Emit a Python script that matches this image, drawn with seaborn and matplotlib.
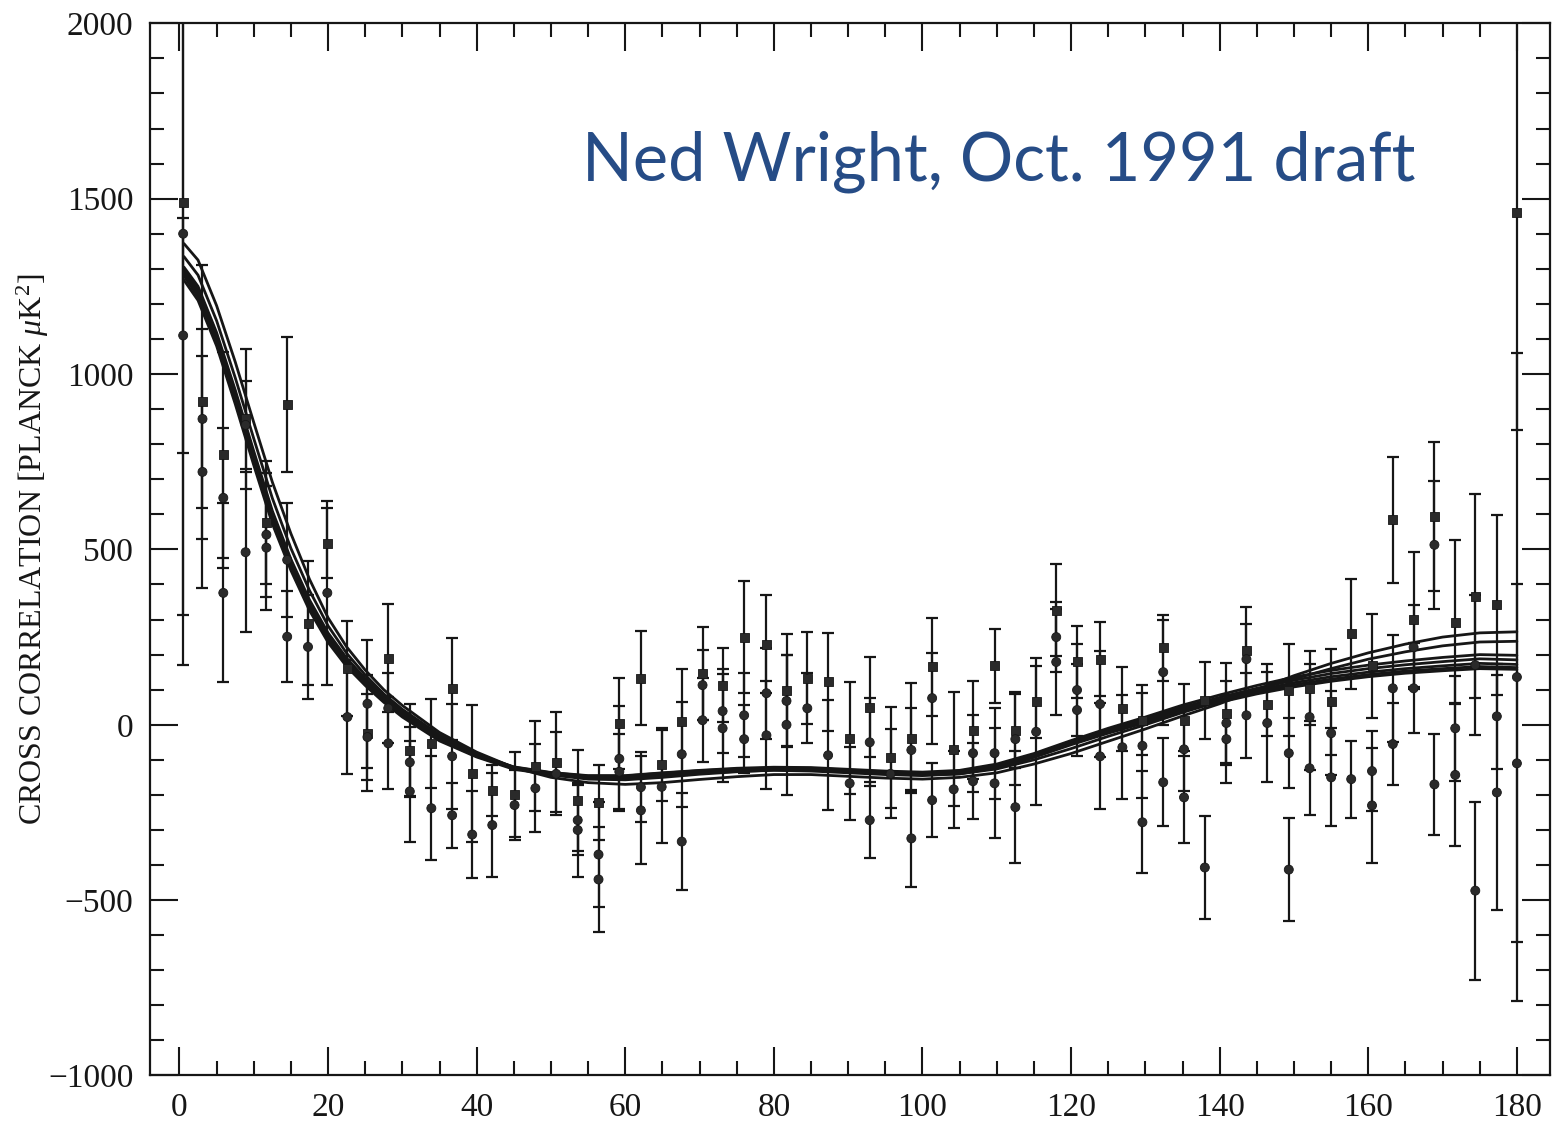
import numpy as np
import pandas as pd
import matplotlib
matplotlib.use("Agg")
import matplotlib.pyplot as plt
from matplotlib.ticker import MultipleLocator
import seaborn as sns

nan = np.nan

# ---------------- data ----------------
bin_x = [0.5, 3.1, 5.9, 8.9, 11.7, 14.5, 17.3, 19.9, 22.6, 25.3,
         28.1, 31.0, 33.9, 36.7, 39.4, 42.1, 45.1, 47.9, 50.7, 53.6,
         56.4, 59.2, 62.1, 64.9, 67.6, 70.4, 73.1, 76.0, 79.0, 81.7,
         84.5, 87.3, 90.2, 92.9, 95.7, 98.5, 101.3, 104.2, 106.8, 109.7,
         112.5, 115.3, 118.0, 120.8, 123.9, 126.9, 129.6, 132.4, 135.2, 138.0,
         140.9, 143.6, 146.4, 149.3, 152.1, 155.0, 157.7, 160.5, 163.3, 166.1,
         168.9, 171.7, 174.4, 177.3, 180.0]

a_val = [1490, 921, 770, 872, 576, 914, 290, 518, 161, -24,
         190, -72, -53, 102, -138, -187, -199, -118, -107, -215,
         -221, 4, 133, -114, 8, 147, 113, 250, 230, 99,
         133, 122, -38, 50, -93, -38, 165, -70, -15, 168,
         -15, 65, 327, 179, 187, 45, 13, 219, 13, 70,
         33, 213, 59, 99, 104, 65, 259, 168, 584, 301,
         593, 293, 367, 342, 1460]
a_err = [1177, 390, 294, 200, 176, 193, 177, 100, 136, 166,
         154, 131, 126, 145, 195, 73, 120, 128, 143, 144,
         107, 129, 134, 104, 151, 132, 106, 160, 140, 160,
         132, 140, 160, 143, 143, 157, 140, 163, 140, 105,
         108, 103, 130, 103, 106, 120, 100, 94, 103, 110,
         143, 123, 91, 131, 106, 151, 156, 148, 180, 192,
         212, 234, 291, 256, 620]

b_val = [1400, 872, 647, 492, 542, 470, 222, 376, 22, -35,
         47, -107, -238, -90, -313, -286, -229, -181, -140, -300,
         -370, -97, -178, -177, -84, 113, 39, 27, 90, 68,
         47, -87, -167, -50, -140, -72, 76, -184, -81, -81,
         -41, -20, 250, 99, 59, -64, -278, 150, -70, -407,
         5, 187, 5, -81, 22, -24, -155, -132, 104, 221,
         513, -143, -473, 24, 136]
b_err = [1230, 255, 200, 228, 177, 163, 149, 263, 163, 123,
         100, 100, 149, 150, 124, 149, 100, 126, 118, 135,
         150, 150, 100, 161, 150, 100, 120, 120, 130, 130,
         100, 157, 105, 125, 127, 120, 130, 109, 110, 130,
         130, 210, 100, 130, 150, 149, 146, 150, 120, 146,
         120, 100, 169, 100, 150, 120, 110, 114, 152, 120,
         183, 204, 254, 150, 923]

c_val = [1110, 721, 376, 855, 505, 251, nan, nan, nan, 60,
         -53, -190, nan, -258, nan, nan, nan, nan, nan, -272,
         -441, -134, -244, nan, -333, 13, -10, -41, -30, 0,
         nan, nan, nan, -272, nan, -324, -215, nan, -161, -167,
         -235, nan, 179, 42, -90, nan, -60, -164, -207, nan,
         -41, 27, nan, -413, -124, -150, nan, -230, -55, 104,
         -170, -10, 170, -193, -110]
c_err = [335, 330, 255, 125, 177, 130, nan, nan, nan, 182,
         131, 143, nan, 92, nan, nan, nan, nan, nan, 100,
         150, 107, 154, nan, 139, 120, 154, 97, 154, 200,
         nan, nan, nan, 108, nan, 139, 106, nan, 109, 157,
         160, nan, 152, 132, 151, nan, 150, 126, 131, nan,
         126, 122, nan, 146, 134, 140, nan, 165, 117, 128,
         143, 150, 200, 336, 510]

# model curves
curve_x = [0.6, 2.5, 5, 7.5, 10, 12.5, 15, 17.5, 20, 22.5, 25, 27.5, 30, 35, 40,
           45, 50, 55, 60, 65, 70, 75, 80, 85, 90, 95, 100, 105, 110, 115,
           120, 125, 130, 135, 140, 145, 150, 155, 160, 165, 170, 175, 180]
curve_1 = [1372, 1325, 1195, 1035, 862, 692, 545, 415, 305, 222, 156, 100, 55, -22, -78,
           -122, -150, -165, -170, -165, -156, -148, -142, -142, -147, -152, -155, -150, -137, -112,
           -82, -47, -12, 25, 60, 100, 140, 175, 205, 230, 250, 262, 265]
curve_2 = [1335, 1282, 1152, 990, 816, 646, 503, 383, 282, 204, 142, 88, 44, -29, -82,
           -122, -143, -155, -157, -150, -141, -134, -129, -129, -134, -140, -143, -140, -126, -100,
           -68, -33, 0, 35, 67, 100, 131, 160, 187, 208, 225, 236, 238]
curve_3 = [1305, 1250, 1118, 955, 780, 610, 472, 356, 262, 190, 132, 80, 37, -35, -85,
           -120, -136, -145, -145, -137, -130, -124, -121, -122, -127, -132, -135, -130, -112, -82,
           -45, -10, 22, 56, 85, 112, 136, 155, 170, 182, 192, 200, 198]
curve_4 = [1297, 1240, 1108, 944, 770, 600, 463, 348, 255, 184, 127, 76, 34, -37, -86,
           -121, -137, -146, -146, -138, -131, -126, -123, -124, -129, -134, -137, -132, -115, -85,
           -48, -14, 17, 50, 78, 104, 127, 146, 160, 171, 180, 188, 185]
curve_5 = [1290, 1230, 1100, 935, 760, 590, 455, 340, 248, 178, 122, 72, 30, -40, -88,
           -123, -138, -148, -148, -140, -133, -128, -125, -127, -132, -137, -140, -135, -118, -88,
           -52, -18, 12, 46, 72, 98, 120, 137, 150, 160, 168, 175, 172]
curve_6 = [1280, 1220, 1090, 925, 750, 582, 448, 333, 241, 172, 117, 68, 26, -43, -90,
           -125, -140, -150, -150, -142, -135, -130, -127, -129, -134, -139, -142, -137, -120, -90,
           -54, -21, 9, 43, 68, 93, 114, 130, 143, 153, 160, 166, 163]
curve_7 = [1268, 1210, 1080, 915, 740, 573, 440, 326, 235, 166, 112, 64, 22, -46, -92,
           -127, -142, -152, -153, -145, -138, -133, -130, -132, -137, -142, -145, -140, -123, -93,
           -57, -24, 6, 40, 64, 88, 108, 124, 137, 147, 154, 160, 158]

x_ticks = [0, 20, 40, 60, 80, 100, 120, 140, 160, 180]
y_ticks = [-1000, -500, 0, 500, 1000, 1500, 2000]
y_label = r"CROSS CORRELATION [PLANCK $\mu$K$^2$]"
note_text = "Ned Wright, Oct. 1991 draft"

# ---------------- frames ----------------
curves = pd.concat([
    pd.DataFrame({"x": curve_x, "y": c, "curve": name})
    for name, c in [("c1", curve_1), ("c2", curve_2), ("c3", curve_3), ("c4", curve_4),
                    ("c5", curve_5), ("c6", curve_6), ("c7", curve_7)]
], ignore_index=True)

points = pd.concat([
    pd.DataFrame({"x": bin_x, "y": v, "err": e, "set": s})
    for s, v, e in [("A", a_val, a_err), ("B", b_val, b_err), ("C", c_val, c_err)]
], ignore_index=True).dropna()

# ---------------- style ----------------
sns.set_style("ticks")
plt.rcParams["font.family"] = ["Liberation Serif", "DejaVu Serif"]
plt.rcParams["mathtext.fontset"] = "custom"
plt.rcParams["mathtext.rm"] = "Liberation Serif"
plt.rcParams["mathtext.it"] = "Liberation Serif:italic"
plt.rcParams["mathtext.bf"] = "Liberation Serif:bold"
plt.rcParams["axes.linewidth"] = 1.6

fig = plt.figure(figsize=(15.54, 11.21), dpi=100)
ax = fig.add_axes([0.0965, 0.0406, 0.9009, 0.9386])

ink = "#161616"

ax.errorbar(points["x"], points["y"], yerr=points["err"], fmt="none",
            ecolor=ink, elinewidth=1.6, capsize=4, capthick=1.6, zorder=2)

sns.lineplot(data=curves, x="x", y="y", units="curve", estimator=None,
             color=ink, linewidth=2.0, ax=ax, zorder=3, legend=False)

sns.scatterplot(data=points, x="x", y="y", style="set",
                markers={"A": "s", "B": "o", "C": "o"}, color="#2a2a2a",
                s=42, edgecolor=ink, linewidth=0.6, ax=ax, zorder=4, legend=False)

ax.set_xlim(-3.97, 184.45)
ax.set_ylim(-1000, 2000)
ax.set_xticks(x_ticks)
ax.set_yticks(y_ticks)
ax.xaxis.set_minor_locator(MultipleLocator(5))
ax.yaxis.set_minor_locator(MultipleLocator(100))
ax.tick_params(which="both", direction="in", top=True, right=True,
               width=1.5, color=ink, labelcolor=ink)
ax.tick_params(which="major", length=20, labelsize=24)
ax.tick_params(which="minor", length=10)
ax.tick_params(axis="y", pad=12)
ax.tick_params(axis="x", pad=12)

ax.set_xlabel("")
ax.set_ylabel(y_label, fontsize=23, color=ink)
ax.yaxis.set_label_coords(-0.071, 0.5)

for sp in ax.spines.values():
    sp.set_color(ink)
    sp.set_linewidth(1.6)

ax.text(54.2, 1553, note_text, fontfamily="Lato", fontsize=48,
        color="#264C86", ha="left", va="baseline")

fig.savefig("out.png", dpi=100, facecolor="white")
